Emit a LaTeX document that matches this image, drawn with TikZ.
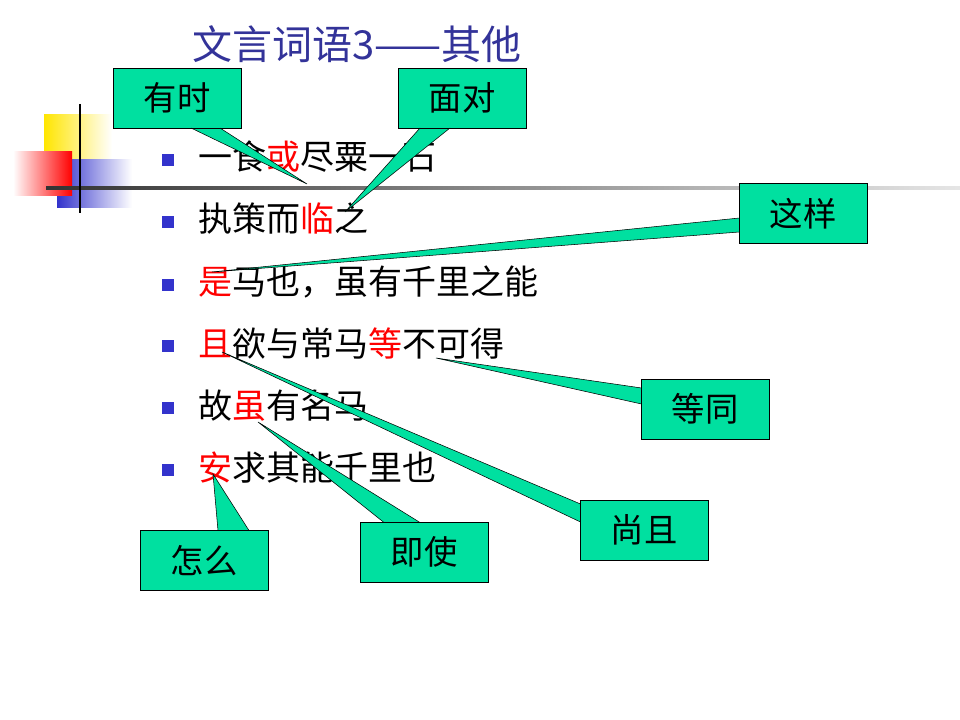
\documentclass[tikz,border=0pt]{standalone}
\usepackage{fontspec}
\setmainfont{Noto Sans CJK SC}
\usetikzlibrary{calc}
\definecolor{callgreen}{RGB}{0,224,160}
\definecolor{titleblue}{RGB}{51,51,153}
\definecolor{bulletblue}{RGB}{51,51,204}
\begin{document}
\begin{tikzpicture}[x=0.75pt,y=-0.75pt]
\tikzset{callbox/.style={draw=black, fill=callgreen, minimum width=96pt, minimum height=45pt,
    inner sep=0pt, font=\fontsize{25}{25}\selectfont, anchor=north west},
  wedge/.style={draw=black, fill=callgreen, line width=0.4pt},
  line/.style={anchor=base west, font=\fontsize{25.5}{25.5}\selectfont},
  bul/.style={fill=bulletblue, minimum size=9pt, inner sep=0pt}}
\newcommand{\hl}[1]{\textcolor{red}{#1}}
\useasboundingbox (0,0) rectangle (960,720);
% decoration
\shade[left color=yellow!80!orange, right color=white] (44,115) rectangle (112,162);
\shade[left color=bulletblue, right color=white] (57,160) rectangle (132,208);
\shade[left color=white, right color=red] (13,152) rectangle (72,196);
\shade[left color=black!80, right color=black!10] (46,186.5) rectangle (960,189.5);
\draw[line width=1.5pt] (80,104) -- (80,213);
% title
\node[anchor=base west, text=titleblue, font=\fontsize{30}{30}\selectfont] (title) at (188,60) {文言词语3——其他};
% lines
\foreach \y/\t [count=\i] in {170/{一食\hl{或}尽粟一石}, 232/{执策而\hl{临}之}, 295/{\hl{是}马也，虽有千里之能},
    356/{\hl{且}欲与常马\hl{等}不可得}, 418/{故\hl{虽}有名马}, 480/{\hl{安}求其能千里也}} {
  \node[bul] (b\i) at (168,\y-10) {};
  \node[line] (l\i) at (194,\y) {\t};
}
% callout tips
\coordinate (tyoushi) at (307,184);
\coordinate (tmiandui) at (345,212);
\coordinate (tzheyang) at (212,272);
\coordinate (tdengtong) at (436,358);
\coordinate (tshangqie) at (222,352);
\coordinate (tjishi) at (258,422);
\coordinate (tzenme) at (213,474);
% callout boxes
\node[callbox] (youshi) at (113,68) {有时};
\node[callbox] (miandui) at (398,68) {面对};
\node[callbox] (zheyang) at (739,183) {这样};
\node[callbox] (dengtong) at (641,379) {等同};
\node[callbox] (shangqie) at (580,500) {尚且};
\node[callbox] (jishi) at (360,522) {即使};
\node[callbox] (zenme) at (140,530) {怎么};
% wedges
\draw[wedge] (191,128) -- (tyoushi) -- (220,128);
\draw[wedge] (420,128) -- (tmiandui) -- (450,128);
\draw[wedge] (739.5,218) -- (tzheyang) -- (739.5,232);
\draw[wedge] (641.5,388) -- (tdengtong) -- (641.5,404);
\draw[wedge] (580.5,504) -- (tshangqie) -- (580.5,522);
\draw[wedge] (384,522.5) -- (tjishi) -- (420,522.5);
\draw[wedge] (218,530.5) -- (tzenme) -- (249,530.5);
% box edges over wedge bases
\foreach \n in {youshi,miandui,zheyang,dengtong,shangqie,jishi,zenme}
  \draw (\n.north west) rectangle (\n.south east);
\end{tikzpicture}
\end{document}
